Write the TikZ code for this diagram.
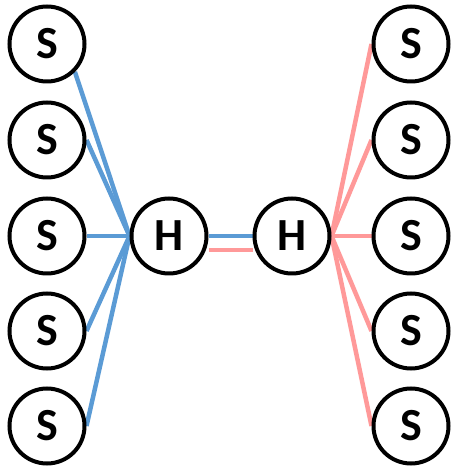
\documentclass[tikz,border=0pt]{standalone}
\usepackage{fontspec}
\setmainfont{Carlito}
\usetikzlibrary{backgrounds}
\definecolor{lblue}{HTML}{5B9BD5}
\definecolor{lred}{HTML}{FF9999}
\begin{document}
\begin{tikzpicture}[x=1pt,y=1pt,
  atom/.style={circle,draw=black,line width=4pt,fill=white,minimum size=75pt,inner sep=0pt,font=\fontsize{46}{46}\selectfont\bfseries},
  bl/.style={draw=lblue,line width=4.5pt},
  rd/.style={draw=lred,line width=4.5pt}]
\useasboundingbox (0,0) rectangle (452,468);
\node[atom] (L1) at (47,424) {S};
\node[atom] (L2) at (47,328) {S};
\node[atom] (L3) at (47,232) {S};
\node[atom] (L4) at (47,137) {S};
\node[atom] (L5) at (47,42) {S};
\node[atom] (R1) at (411,424) {S};
\node[atom] (R2) at (411,328) {S};
\node[atom] (R3) at (411,232) {S};
\node[atom] (R4) at (411,137) {S};
\node[atom] (R5) at (411,42) {S};
\node[atom] (H1) at (169,232) {H};
\node[atom] (H2) at (292,232) {H};
\begin{pgfonlayer}{background}
\draw[bl] (L1.south east) -- (H1.west);
\draw[bl] (L2.east) -- (H1.west);
\draw[bl] (L3.east) -- (H1.west);
\draw[bl] (L4.east) -- (H1.west);
\draw[bl] (L5.east) -- (H1.west);
\draw[rd] (H2.east) -- (R1.west);
\draw[rd] (H2.east) -- (R2.west);
\draw[rd] (H2.east) -- (R3.west);
\draw[rd] (H2.east) -- (R4.west);
\draw[rd] (H2.east) -- (R5.west);
\draw[bl] (H1.east) -- (H2.west);
\draw[rd] ([yshift=-14pt]H1.east) -- ([yshift=-14pt]H2.west);
\end{pgfonlayer}
\end{tikzpicture}
\end{document}
